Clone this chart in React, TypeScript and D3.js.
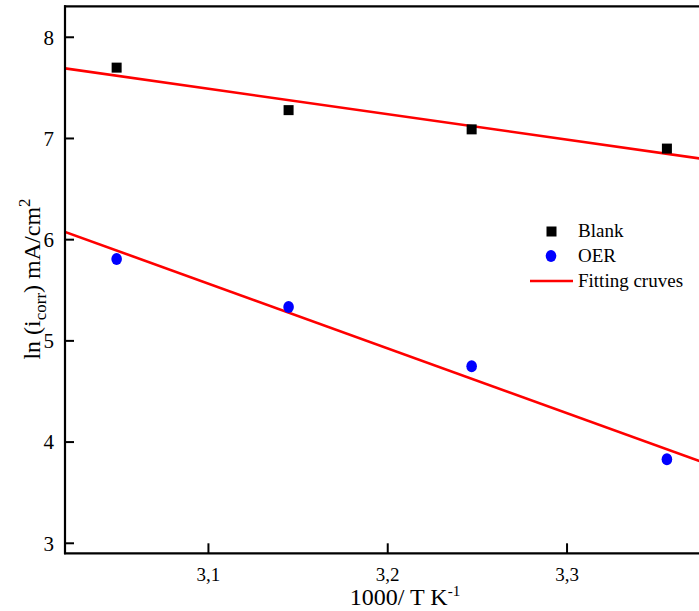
import React from "react";
import * as d3 from "d3";

const xValues = [3.0488, 3.1447, 3.2468, 3.3557];
const blankValues = [7.7, 7.28, 7.09, 6.9];
const oerValues = [5.81, 5.335, 4.75, 3.83];
const xTicks = [3.1, 3.2, 3.3];
const yTicks = [3, 4, 5, 6, 7, 8];
const legendLabels = ["Blank", "OER", "Fitting cruves"];

const W = 699;
const H = 611;
const FONT = "'Liberation Serif', 'Times New Roman', serif";

function fit(xs: number[], ys: number[]) {
  const mx = d3.mean(xs)!;
  const my = d3.mean(ys)!;
  let sxy = 0, sxx = 0;
  xs.forEach((x, i) => {
    sxy += (x - mx) * (ys[i] - my);
    sxx += (x - mx) * (x - mx);
  });
  const slope = sxy / sxx;
  return (x: number) => my + slope * (x - mx);
}

export default function App() {
  const x = d3.scaleLinear().domain([3.02, 3.4]).range([65, 65 + 0.38 * 1793]);
  const y = d3.scaleLinear().domain([2.901, 8.306]).range([553.3, 6.3]);
  const left = x.range()[0];
  const right = x.range()[1];
  const top = y.range()[1];
  const bottom = y.range()[0];

  const fBlank = fit(xValues, blankValues);
  const fOer = fit(xValues, oerValues);
  const xs = [x.domain()[0], x.domain()[1]];
  const pathFor = (f: (v: number) => number) =>
    d3.line<number>().x((d) => x(d)).y((d) => y(f(d)))(xs) as string;

  const fmt = (v: number) => v.toFixed(1).replace(".", ",");

  return (
    <svg
      width={W}
      height={H}
      style={{ position: "absolute", left: 0, top: 0, display: "block", background: "#fff" }}
      fontFamily={FONT}
    >
      <defs>
        <clipPath id="plot">
          <rect x={left} y={top} width={right - left} height={bottom - top} />
        </clipPath>
      </defs>
      <g clipPath="url(#plot)">
        <path d={pathFor(fBlank)} stroke="#ff0000" strokeWidth={2.6} fill="none" />
        <path d={pathFor(fOer)} stroke="#ff0000" strokeWidth={2.6} fill="none" />
      </g>
      {xValues.map((xv, i) => (
        <rect
          key={"b" + i}
          x={x(xv) - 5}
          y={y(blankValues[i]) - 5}
          width={10}
          height={10}
          fill="#000"
        />
      ))}
      {xValues.map((xv, i) => (
        <ellipse key={"o" + i} cx={x(xv)} cy={y(oerValues[i])} rx={5.3} ry={6} fill="#0000ff" />
      ))}
      <line x1={left} x2={left} y1={top - 1} y2={bottom + 1} stroke="#000" strokeWidth={2.2} />
      <line x1={left - 1} x2={right} y1={bottom} y2={bottom} stroke="#000" strokeWidth={2.2} />
      <line x1={left - 1} x2={right} y1={top} y2={top} stroke="#000" strokeWidth={2.2} />
      {yTicks.map((t) => (
        <g key={"yt" + t}>
          <line x1={left} x2={left + 9} y1={y(t)} y2={y(t)} stroke="#000" strokeWidth={2} />
          <text x={54} y={y(t)} dy="0.35em" textAnchor="end" fontSize={21} fill="#000">
            {t}
          </text>
        </g>
      ))}
      {xTicks.map((t) => (
        <g key={"xt" + t}>
          <line x1={x(t)} x2={x(t)} y1={bottom} y2={bottom - 10} stroke="#000" strokeWidth={2} />
          <text x={x(t)} y={581} textAnchor="middle" fontSize={19} fill="#000">
            {fmt(t)}
          </text>
        </g>
      ))}
      <text x={405} y={605} textAnchor="middle" fontSize={24} fill="#000">
        1000/ T K<tspan dy={-9} fontSize={15}>-1</tspan>
      </text>
      <text
        transform={`translate(40,${279}) rotate(-90)`}
        textAnchor="middle"
        fontSize={24}
        fill="#000"
      >
        ln (i<tspan dy={6} fontSize={17}>corr</tspan>
        <tspan dy={-6}>) mA/cm</tspan>
        <tspan dy={-10} fontSize={17}>2</tspan>
      </text>
      <rect x={546.5} y={226.5} width={10} height={10} fill="#000" />
      <text x={578} y={237} fontSize={19} fill="#000">{legendLabels[0]}</text>
      <ellipse cx={551} cy={256} rx={5.3} ry={6} fill="#0000ff" />
      <text x={578} y={262} fontSize={19} fill="#000">{legendLabels[1]}</text>
      <line x1={530} x2={573} y1={281} y2={281} stroke="#ff0000" strokeWidth={2.6} />
      <text x={578} y={287} fontSize={19} fill="#000">{legendLabels[2]}</text>
    </svg>
  );
}
